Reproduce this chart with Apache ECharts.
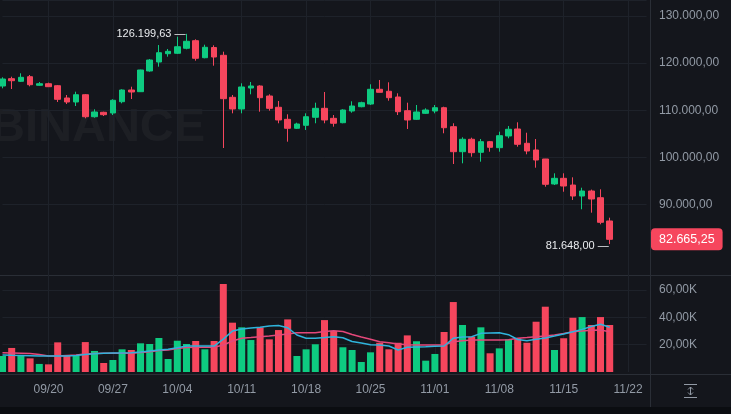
<!DOCTYPE html>
<html>
<head>
<meta charset="utf-8">
<script src="https://cdn.jsdelivr.net/npm/echarts@6/dist/echarts.min.js"></script>
<style>
  html, body { margin: 0; padding: 0; background: #14161c; }
  #chart { width: 731px; height: 414px; }
</style>
</head>
<body>
<div id="chart"></div>
<script>
// ====== daily candles, BTC / USDT ======
const dates = [
  "09/15","09/16","09/17","09/18","09/19","09/20","09/21","09/22","09/23","09/24","09/25","09/26","09/27","09/28","09/29","09/30",
  "10/01","10/02","10/03","10/04","10/05","10/06","10/07","10/08","10/09","10/10","10/11","10/12","10/13","10/14","10/15","10/16",
  "10/17","10/18","10/19","10/20","10/21","10/22","10/23","10/24","10/25","10/26","10/27","10/28","10/29","10/30","10/31",
  "11/01","11/02","11/03","11/04","11/05","11/06","11/07","11/08","11/09","11/10","11/11","11/12","11/13","11/14","11/15","11/16",
  "11/17","11/18","11/19","11/20","11/21","11/22","11/23","11/24",
];
const tickDates = ["09/20","09/27","10/04","10/11","10/18","10/25","11/01","11/08","11/15","11/22"];
const priceTicks = [90000, 100000, 110000, 120000, 130000];
const volumeTicks = [20000, 40000, 60000];

const opens = [
  115150,116700,116140,117120,115300,115630,115210,112610,111760,113300,108640,109580,109430,111820,114300,113940,
  118330,120230,121990,122080,123140,124750,121140,123300,121650,112750,110280,114720,115150,113030,110640,108090,
  106190,106820,108520,110420,108300,107370,109850,110760,111330,114450,114030,112820,109920,108090,109360,
  109850,110550,106530,101230,103860,101100,103350,102080,104560,106040,103010,101590,99680,94390,95590,94170,
  91840,92900,91480,86550,
];
const closes = [
  116630,116270,116990,115420,115630,115000,112330,111760,113300,108640,109640,109070,112120,114300,113880,118540,
  120650,122200,122500,123470,124620,121020,123350,121290,112460,110280,114940,115150,112670,110420,107950,106190,
  107100,108640,110420,107950,107250,110060,110910,111610,114450,113810,112670,109700,107950,109640,110060,
  110550,106310,101230,103860,101020,103350,102160,104620,105980,102800,101380,99470,94320,95590,93960,91840,
  92900,91210,86270,82665.25,
];
const lows = [
  114660,114510,115990,115080,115210,114940,111760,111330,110910,108300,108430,108790,109000,111480,112390,113880,
  118180,119240,121360,121930,122920,120510,121020,119450,102010,109360,109360,113390,109700,109920,107250,103350,
  106040,105830,107250,107250,106530,107250,109490,110640,111120,113810,112030,109000,106040,107950,109220,
  109360,105130,98620,98770,100170,99110,101230,101230,104070,102290,100680,97840,93810,94170,92750,91000,
  89030,88310,85850,81648,
];
const highs = [
  116990,117120,117840,117480,115990,115850,115360,113240,113940,113450,110210,109700,112330,114450,115000,118600,
  120860,123830,122990,125590,126199.63,125040,123900,123770,122420,113240,115720,116000,115300,113390,111970,109150,
  107370,109360,111610,113880,109000,110210,111910,111820,115510,116420,115930,113600,111610,111120,110420,
  111120,110760,107250,104280,104200,103920,103500,105470,106670,107460,105250,103920,99700,96650,96650,95800,
  93600,93200,93260,87250,
];
const volumes = [
  11700,17600,11700,10000,5900,5600,21700,11700,11700,21900,15400,6600,8800,16600,16100,21000,
  20500,24900,9500,22900,20500,22700,16600,22700,64400,36100,32700,23400,32700,23900,30700,38500,
  11700,16600,20300,38000,30000,18100,16100,7300,14400,21400,16600,21400,26800,22500,8300,
  13200,29300,51200,34400,25800,32700,13700,17300,23900,24700,21400,36800,47800,16100,24700,39700,
  40200,34400,40200,34400,
];
// two volume averages
const volAvgCyan = [
  12400,12200,12100,11900,11700,11700,11700,11700,12100,12800,13400,13700,13900,13900,14100,14600,
  15400,16100,16600,17800,19000,19000,19000,19000,24100,30000,31500,32200,32700,33700,34000,32400,
  27100,24700,24700,25200,25800,25100,22300,21200,20000,19800,19000,16100,18100,18300,18500,
  18800,19000,24700,25600,25800,28300,28500,28700,27300,23800,22900,23900,24900,26300,27800,29500,
  31200,33300,34900,32700,
];
const volAvgPink = [
  14100,13900,13700,13500,12800,11700,11700,12100,12400,13200,13500,13700,13700,13700,13700,14300,
  14900,15700,16100,17200,17900,18100,18100,18100,19800,22700,24700,25200,25800,26300,27100,27800,
  28700,28700,28700,29600,30200,29600,27400,25600,23900,22200,21400,20500,20000,19800,19800,
  19800,19800,22200,22900,23400,23400,23400,23400,23600,24700,25200,25800,26300,27100,28200,29500,
  30000,30500,30700,29500,
];

const UP = "#0ecb81";
const DOWN = "#f6465d";
const GRID = "#1e222a";
const SEP = "#2a2e36";
const TEXT = "#929aa5";
const FONT = "'Liberation Sans', Arial, sans-serif";

function fmtPrice(v) {
  const parts = v.toFixed(2).split(".");
  return parts[0].replace(/\B(?=(\d{3})+(?!\d))/g, ".") + "," + parts[1];
}
function fmtVolume(v) {
  return (v / 1000).toFixed(2).replace(".", ",") + "K";
}

const candleData = opens.map((o, i) => [o, closes[i], lows[i], highs[i]]);
const volumeData = volumes.map((v, i) => ({
  value: v,
  itemStyle: { color: closes[i] >= opens[i] ? UP : DOWN },
}));
const lastIdx = closes.length - 1;
const highIdx = highs.indexOf(Math.max(...highs));
const lowIdx = lows.indexOf(Math.min(...lows));

const showTick = (idx, value) => tickDates.includes(value);
const T = "rgba(0,0,0,0)";

const chart = echarts.init(document.getElementById("chart"));

chart.setOption({
  animation: false,
  backgroundColor: "#14161c",
  textStyle: { fontFamily: FONT },
  grid: [
    { left: 2.5, width: 644, top: 0, height: 275 },
    { left: 2.5, width: 644, top: 275, height: 97 },
  ],
  xAxis: [
    {
      type: "category", gridIndex: 0, data: dates, boundaryGap: false,
      axisLine: { show: false }, axisTick: { show: false }, axisLabel: { show: false },
      splitLine: { show: true, interval: showTick, lineStyle: { color: GRID, width: 1 } },
    },
    {
      type: "category", gridIndex: 1, data: dates, boundaryGap: false,
      axisLine: { show: false }, axisTick: { show: false },
      axisLabel: { interval: showTick, color: TEXT, fontSize: 12, margin: 12, fontFamily: FONT },
      splitLine: { show: true, interval: showTick, lineStyle: { color: GRID, width: 1 } },
    },
  ],
  yAxis: [
    {
      type: "value", gridIndex: 0, position: "right", min: 75106, max: 133368, splitNumber: 6,
      axisLine: { show: false }, axisTick: { show: false },
      axisLabel: {
        align: "left", margin: 12.5, color: TEXT, fontSize: 12, fontFamily: FONT,
        formatter: (v) => (priceTicks.includes(v) ? fmtPrice(v) : ""),
      },
      splitLine: { lineStyle: { color: [T, T, GRID, GRID, GRID, GRID, GRID, GRID, T] } },
    },
    {
      type: "value", gridIndex: 1, position: "right", min: 0, max: 71000, interval: 20000,
      axisLine: { show: false }, axisTick: { show: false },
      axisLabel: {
        align: "left", margin: 12.5, color: TEXT, fontSize: 12, fontFamily: FONT,
        formatter: (v) => (volumeTicks.includes(v) ? fmtVolume(v) : ""),
      },
      splitLine: { lineStyle: { color: [T, GRID, GRID, GRID, T] } },
    },
  ],
  series: [
    {
      type: "candlestick", xAxisIndex: 0, yAxisIndex: 0, data: candleData,
      barWidth: 6, clip: false,
      itemStyle: { color: UP, color0: DOWN, borderColor: UP, borderColor0: DOWN, borderWidth: 1 },
      markPoint: {
        symbol: "circle", symbolSize: 0, silent: true,
        label: { position: "left", distance: 1, color: "#eaecef", fontSize: 11, fontFamily: FONT },
        data: [
          { coord: [highIdx, highs[highIdx]], label: { formatter: fmtPrice(highs[highIdx]) + " \u2014" } },
          { coord: [lowIdx, lows[lowIdx]], label: { formatter: fmtPrice(lows[lowIdx]) + " \u2014", offset: [0, 2] } },
        ],
      },
      markLine: {
        symbol: ["none", "none"], silent: true,
        lineStyle: { color: T, width: 1, type: "solid" },
        label: {
          show: true, position: "end", distance: 4.5, formatter: fmtPrice(closes[lastIdx]),
          backgroundColor: DOWN, color: "#ffffff", borderRadius: 4,
          padding: [5, 8, 4, 8], fontSize: 12.5, fontFamily: FONT,
        },
        data: [{ yAxis: closes[lastIdx] }],
      },
    },
    {
      type: "bar", xAxisIndex: 1, yAxisIndex: 1, data: volumeData, barWidth: 7, clip: false,
    },
    {
      type: "line", xAxisIndex: 1, yAxisIndex: 1, data: volAvgPink, showSymbol: false,
      lineStyle: { color: "#e4487a", width: 1.5 },
    },
    {
      type: "line", xAxisIndex: 1, yAxisIndex: 1, data: volAvgCyan, showSymbol: false,
      lineStyle: { color: "#2fb4dc", width: 1.5 },
    },
  ],
  graphic: [
    {
      type: "text", left: -9, top: 105, z: -10, silent: true,
      style: { text: "BINANCE", font: "bold 47px " + FONT, fill: "rgba(255,255,255,0.04)" },
    },
    { type: "rect", silent: true, shape: { x: 0, y: 407, width: 731, height: 7 }, style: { fill: "#0b0d11" } },
    { type: "line", silent: true, shape: { x1: 0, y1: 275.5, x2: 731, y2: 275.5 }, style: { stroke: SEP, lineWidth: 1 } },
    { type: "line", silent: true, shape: { x1: 0, y1: 374.5, x2: 731, y2: 374.5 }, style: { stroke: SEP, lineWidth: 1 } },
    { type: "line", silent: true, shape: { x1: 650.5, y1: 0, x2: 650.5, y2: 407 }, style: { stroke: SEP, lineWidth: 1 } },
    // auto-scale icon
    { type: "line", silent: true, shape: { x1: 684, y1: 384.5, x2: 697, y2: 384.5 }, style: { stroke: TEXT, lineWidth: 1 } },
    { type: "line", silent: true, shape: { x1: 684, y1: 397.5, x2: 697, y2: 397.5 }, style: { stroke: TEXT, lineWidth: 1 } },
    { type: "line", silent: true, shape: { x1: 690.5, y1: 387, x2: 690.5, y2: 395 }, style: { stroke: TEXT, lineWidth: 1 } },
    { type: "polyline", silent: true, shape: { points: [[688, 389.5], [690.5, 387], [693, 389.5]] }, style: { stroke: TEXT, fill: null, lineWidth: 1 } },
    { type: "polyline", silent: true, shape: { points: [[688, 392.5], [690.5, 395], [693, 392.5]] }, style: { stroke: TEXT, fill: null, lineWidth: 1 } },
  ],
});
</script>
</body>
</html>
